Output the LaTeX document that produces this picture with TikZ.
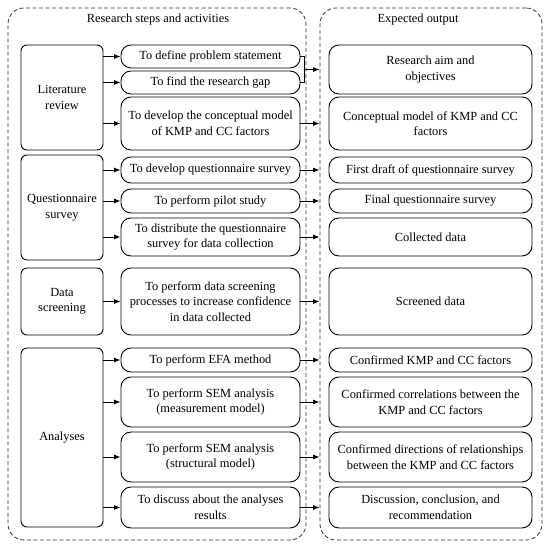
\documentclass[tikz,border=0pt]{standalone}
\usepackage{fontspec}
\setmainfont{Liberation Serif}[Ligatures=TeX]
\usetikzlibrary{calc,arrows.meta}
\begin{document}
\begin{tikzpicture}[x=1pt,y=-1pt,
  every node/.style={font=\rmfamily\fontsize{12.4}{15.5}\selectfont, align=center, inner sep=0pt},
  cont/.style={draw=black!80, line width=0.8pt, dash pattern=on 4pt off 2.5pt, rounded corners=16pt},
  phase/.style={draw, line width=0.9pt, rounded corners=6pt, minimum width=82pt},
  act/.style={draw, line width=0.9pt, rounded corners=10pt, minimum width=179pt},
  outb/.style={draw, line width=0.9pt, rounded corners=10pt, minimum width=203pt},
  arr/.style={line width=0.9pt, -{Latex[length=6.5pt,width=5pt]}}]
\useasboundingbox (0,0) rectangle (550,548);
% containers
\node[cont, minimum width=298pt, minimum height=532pt] (L) at (157,274) {};
\node[cont, minimum width=222pt, minimum height=532pt] (R) at (431,274) {};
\node (tl) at (158,20) {Research steps and activities};
\node (tr) at (418,20) {Expected output};
% phases
\node[phase, minimum height=105pt] (p1) at (62,97.5) {Literature\\review};
\node[phase, minimum height=105pt] (p2) at (62,207.5) {Questionnaire\\survey};
\node[phase, minimum height=67pt] (p3) at (62,301.5) {Data\\screening};
\node[phase, minimum height=179pt] (p4) at (62,437.5) {Analyses};
% activities
\node[act, minimum height=23pt] (a1) at (210.5,56.5) {To define problem statement};
\node[act, minimum height=23pt] (a2) at (210.5,82.5) {To find the research gap};
\node[act, minimum height=53pt] (a3) at (210.5,123.5) {To develop the conceptual model\\of KMP and CC factors};
\node[act, minimum height=26pt] (a4) at (210.5,170) {To develop questionnaire survey};
\node[act, minimum height=24pt] (a5) at (210.5,201) {To perform pilot study};
\node[act, minimum height=38pt] (a6) at (210.5,237) {To distribute the questionnaire\\survey for data collection};
\node[act, minimum height=67pt] (a7) at (210.5,301.5) {To perform data screening\\processes to increase confidence\\in data collected};
\node[act, minimum height=24pt] (a8) at (210.5,360) {To perform EFA method};
\node[act, minimum height=50pt] (a9) at (210.5,402) {To perform SEM analysis\\(measurement model)};
\node[act, minimum height=50pt] (a10) at (210.5,457) {To perform SEM analysis\\(structural model)};
\node[act, minimum height=41pt] (a11) at (210.5,507.5) {To discuss about the analyses\\results};
% outputs
\node[outb, minimum height=49pt] (o1) at (430.5,69.5) {Research aim and\\objectives};
\node[outb, minimum height=53pt] (o2) at (430.5,123.5) {Conceptual model of KMP and CC\\factors};
\node[outb, minimum height=26pt] (o3) at (430.5,170) {First draft of questionnaire survey};
\node[outb, minimum height=24pt] (o4) at (430.5,201) {Final questionnaire survey};
\node[outb, minimum height=38pt] (o5) at (430.5,237) {Collected data};
\node[outb, minimum height=67pt] (o6) at (430.5,301.5) {Screened data};
\node[outb, minimum height=24pt] (o7) at (430.5,360) {Confirmed KMP and CC factors};
\node[outb, minimum height=50pt] (o8) at (430.5,402) {Confirmed correlations between the\\KMP and CC factors};
\node[outb, minimum height=50pt] (o9) at (430.5,457) {Confirmed directions of relationships\\between the KMP and CC factors};
\node[outb, minimum height=41pt] (o10) at (430.5,507.5) {Discussion, conclusion, and\\recommendation};
% left arrows
\foreach \a/\p in {a1/p1,a2/p1,a3/p1,a4/p2,a5/p2,a6/p2,a7/p3,a8/p4,a9/p4,a10/p4,a11/p4}
  \draw[arr] (\a.west -| \p.east) -- (\a.west);
% right arrows
\draw[line width=0.9pt] (a1.east) -- ++(4,0) coordinate (b1) -- (b1 |- a2.east) coordinate (b2) -- (a2.east);
\coordinate (bm) at ($(b1)!0.5!(b2)$);
\draw[arr] (bm) -- (bm -| R.west);
\foreach \a in {a3,a4,a5,a6,a7,a8,a9,a10,a11}
  \draw[arr] (\a.east) -- (\a.east -| R.west);
\end{tikzpicture}
\end{document}
